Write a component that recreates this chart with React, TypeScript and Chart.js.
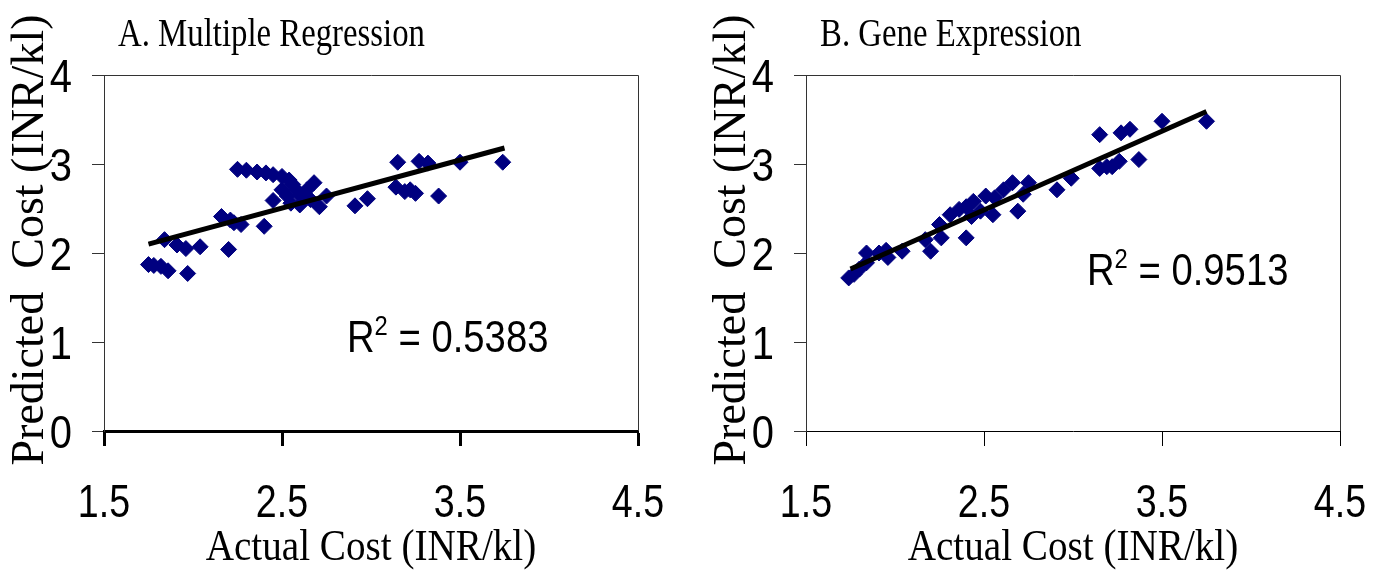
import { useEffect, useRef } from "react";
import { Chart, registerables } from "chart.js";

Chart.register(...registerables);

// ---------- data ----------
const X_TICKS = [1.5, 2.5, 3.5, 4.5];
const X_TICK_LABELS = ["1.5", "2.5", "3.5", "4.5"];
const Y_TICKS = [0, 1, 2, 3, 4];
const Y_TICK_LABELS = ["0", "1", "2", "3", "4"];

const X_AXIS_TITLE = "Actual Cost (INR/kl)";
const Y_AXIS_TITLE = "Predicted  Cost (INR/kl)";

// Panel A: Multiple Regression
const REG_TITLE = "A. Multiple Regression";
const REG_R2 = "0.5383";
const REG_ACTUAL = [
  1.75, 1.78, 1.82, 1.86, 1.97, 1.84, 1.91, 1.96, 2.04, 2.2, 2.16, 2.21, 2.23, 2.27,
  2.4, 2.45, 2.25, 2.3, 2.36, 2.41, 2.45, 2.5, 2.54, 2.56, 2.58, 2.6, 2.68, 2.53,
  2.55, 2.6, 2.66, 2.71, 2.75, 2.5, 2.64, 2.91, 2.98, 3.15, 3.27, 3.32, 3.5, 3.74,
  3.14, 3.19, 3.25, 3.38, 3.22,
];
const REG_PREDICTED = [
  1.87, 1.86, 1.85, 1.8, 1.77, 2.15, 2.09, 2.05, 2.07, 2.04, 2.41, 2.37, 2.34, 2.32,
  2.3, 2.59, 2.94, 2.93, 2.91, 2.9, 2.88, 2.86, 2.82, 2.77, 2.71, 2.65, 2.79, 2.64,
  2.56, 2.54, 2.6, 2.52, 2.64, 2.71, 2.71, 2.53, 2.61, 3.02, 3.03, 3.01, 3.02, 3.02,
  2.74, 2.69, 2.67, 2.64, 2.71,
];
const REG_TREND_X = [1.75, 3.75];
const REG_TREND_Y = [2.1, 3.18];

// Panel B: Gene Expression
const GENE_TITLE = "B. Gene Expression";
const GENE_R2 = "0.9513";
const GENE_ACTUAL = [
  1.74, 1.77, 1.8, 1.84, 1.84, 1.91, 1.96, 1.95, 2.04, 2.17, 2.2, 2.26, 2.25, 2.31,
  2.4, 2.36, 2.4, 2.44, 2.43, 2.48, 2.51, 2.55, 2.56, 2.61, 2.66, 2.69, 2.72, 2.75,
  2.91, 2.99, 3.15, 3.15, 3.19, 3.26, 3.27, 3.32, 3.37, 3.5, 3.75, 3.22,
];
const GENE_PREDICTED = [
  1.72, 1.76, 1.82, 2.0, 1.89, 2.0, 1.95, 2.03, 2.02, 2.15, 2.02, 2.17, 2.32, 2.43,
  2.17, 2.49, 2.52, 2.58, 2.41, 2.47, 2.64, 2.43, 2.62, 2.71, 2.79, 2.47, 2.66, 2.79,
  2.71, 2.84, 3.33, 2.95, 2.97, 3.03, 3.35, 3.39, 3.05, 3.48, 3.48, 2.97,
];
const GENE_TREND_X = [1.75, 3.75];
const GENE_TREND_Y = [1.82, 3.59];

// ---------- helpers ----------
const SERIF = "'Liberation Serif', 'Times New Roman', serif";
const SANS = "'Liberation Sans', Arial, sans-serif";
const NAVY = "#000080";

function drawScaled(
  ctx: CanvasRenderingContext2D,
  text: string,
  x: number,
  y: number,
  font: string,
  sx: number,
  align: CanvasTextAlign
) {
  ctx.save();
  ctx.translate(x, y);
  ctx.scale(sx, 1);
  ctx.font = font;
  ctx.textAlign = align;
  ctx.textBaseline = "alphabetic";
  ctx.fillText(text, 0, 0);
  ctx.restore();
}

const annotatePlugin = {
  id: "annotate",
  beforeDatasetsDraw(chart: any) {
    const { ctx, chartArea: a } = chart;
    ctx.save();
    ctx.strokeStyle = "#333";
    ctx.lineWidth = 1;
    ctx.beginPath();
    ctx.moveTo(a.left, Math.round(a.top) + 0.5);
    ctx.lineTo(Math.round(a.right) + 0.5, Math.round(a.top) + 0.5);
    ctx.lineTo(Math.round(a.right) + 0.5, a.bottom);
    ctx.stroke();
    ctx.restore();
  },
  afterDraw(chart: any, _args: any, opts: any) {
    const { ctx, chartArea: a } = chart;
    const xs = chart.scales.x;
    const ys = chart.scales.y;
    ctx.save();
    ctx.fillStyle = "#000";
    const tickFont = `47px ${SANS}`;
    // tick labels, positioned by the library's scales
    X_TICKS.forEach((v, i) => {
      drawScaled(ctx, X_TICK_LABELS[i], xs.getPixelForValue(v), 517, tickFont, 0.8, "center");
    });
    Y_TICKS.forEach((v, i) => {
      drawScaled(ctx, Y_TICK_LABELS[i], 72, ys.getPixelForValue(v) + 17, tickFont, 0.85, "right");
    });
    // panel title
    drawScaled(ctx, opts.title, a.left + 14, 46, `41px ${SERIF}`, 0.8, "left");
    // x axis title
    drawScaled(ctx, X_AXIS_TITLE, (a.left + a.right) / 2, 560, `45px ${SERIF}`, 0.87, "center");
    // y axis title (rotated)
    ctx.save();
    ctx.translate(43, 240);
    ctx.rotate(-Math.PI / 2);
    ctx.font = `46px ${SERIF}`;
    ctx.textAlign = "center";
    ctx.textBaseline = "alphabetic";
    ctx.fillText(Y_AXIS_TITLE, 0, 0);
    ctx.restore();
    // R^2 label
    const sx = 0.85;
    let x = opts.r2x;
    const y = opts.r2y;
    const big = `45px ${SANS}`;
    const small = `28px ${SANS}`;
    ctx.font = big;
    drawScaled(ctx, "R", x, y, big, sx, "left");
    x += ctx.measureText("R").width * sx;
    ctx.font = small;
    drawScaled(ctx, "2", x, y - 17, small, sx, "left");
    x += ctx.measureText("2").width * sx;
    ctx.font = big;
    drawScaled(ctx, " = " + opts.r2, x, y, big, sx, "left");
    ctx.restore();
  },
};

type PanelProps = {
  left: number;
  width: number;
  title: string;
  r2: string;
  r2x: number;
  r2y: number;
  xs: number[];
  ys: number[];
  trendX: number[];
  trendY: number[];
  thickAxis: boolean;
};

function Panel(p: PanelProps) {
  const ref = useRef<HTMLCanvasElement | null>(null);
  useEffect(() => {
    if (!ref.current) return;
    const points = p.xs.map((x, i) => ({ x, y: p.ys[i] }));
    const trend = p.trendX.map((x, i) => ({ x, y: p.trendY[i] }));
    const axisW = p.thickAxis ? 3 : 1;
    const chart = new Chart(ref.current, {
      type: "scatter",
      data: {
        datasets: [
          {
            type: "line",
            label: "Trend",
            data: trend,
            borderColor: "#000",
            borderWidth: 5,
            pointRadius: 0,
            showLine: true,
            fill: false,
          } as any,
          {
            label: "Predicted",
            data: points,
            pointStyle: "rectRot",
            pointRadius: 8,
            pointBackgroundColor: NAVY,
            pointBorderColor: NAVY,
            pointBorderWidth: 1,
            showLine: false,
          },
        ],
      },
      options: {
        animation: false,
        responsive: false,
        maintainAspectRatio: false,
        layout: { padding: { top: 75, right: p.width - 638, left: 0, bottom: 0 } },
        plugins: {
          legend: { display: false },
          tooltip: { enabled: false },
          title: { display: false },
          annotate: { title: p.title, r2: p.r2, r2x: p.r2x, r2y: p.r2y },
        } as any,
        scales: {
          x: {
            type: "linear",
            position: "bottom",
            min: 1.5,
            max: 4.5,
            afterBuildTicks: (s: any) => {
              s.ticks = X_TICKS.map((v) => ({ value: v }));
            },
            afterFit: (s: any) => {
              s.height = 144;
            },
            ticks: { display: false },
            grid: {
              drawOnChartArea: false,
              drawTicks: true,
              tickLength: 15,
              tickWidth: axisW,
              tickColor: "#000",
            },
            border: { display: true, color: "#000", width: axisW },
          },
          y: {
            type: "linear",
            min: 0,
            max: 4,
            afterBuildTicks: (s: any) => {
              s.ticks = Y_TICKS.map((v) => ({ value: v }));
            },
            afterFit: (s: any) => {
              s.width = 104;
            },
            ticks: { display: false },
            grid: {
              drawOnChartArea: false,
              drawTicks: true,
              tickLength: 12,
              tickWidth: 1,
              tickColor: "#333",
            },
            border: { display: true, color: "#333", width: 1 },
          },
        },
      } as any,
      plugins: [annotatePlugin],
    });
    return () => chart.destroy();
  }, []);
  return (
    <canvas
      ref={ref}
      width={p.width}
      height={575}
      style={{ position: "absolute", left: p.left, top: 0, width: p.width, height: 575 }}
    />
  );
}

export default function App() {
  return (
    <div
      style={{
        position: "absolute",
        left: 0,
        top: 0,
        width: 1380,
        height: 575,
        background: "#fff",
        overflow: "hidden",
      }}
    >
      <Panel
        left={0}
        width={690}
        title={REG_TITLE}
        r2={REG_R2}
        r2x={347}
        r2y={352}
        xs={REG_ACTUAL}
        ys={REG_PREDICTED}
        trendX={REG_TREND_X}
        trendY={REG_TREND_Y}
        thickAxis={true}
      />
      <Panel
        left={702}
        width={678}
        title={GENE_TITLE}
        r2={GENE_R2}
        r2x={385}
        r2y={285}
        xs={GENE_ACTUAL}
        ys={GENE_PREDICTED}
        trendX={GENE_TREND_X}
        trendY={GENE_TREND_Y}
        thickAxis={false}
      />
    </div>
  );
}
